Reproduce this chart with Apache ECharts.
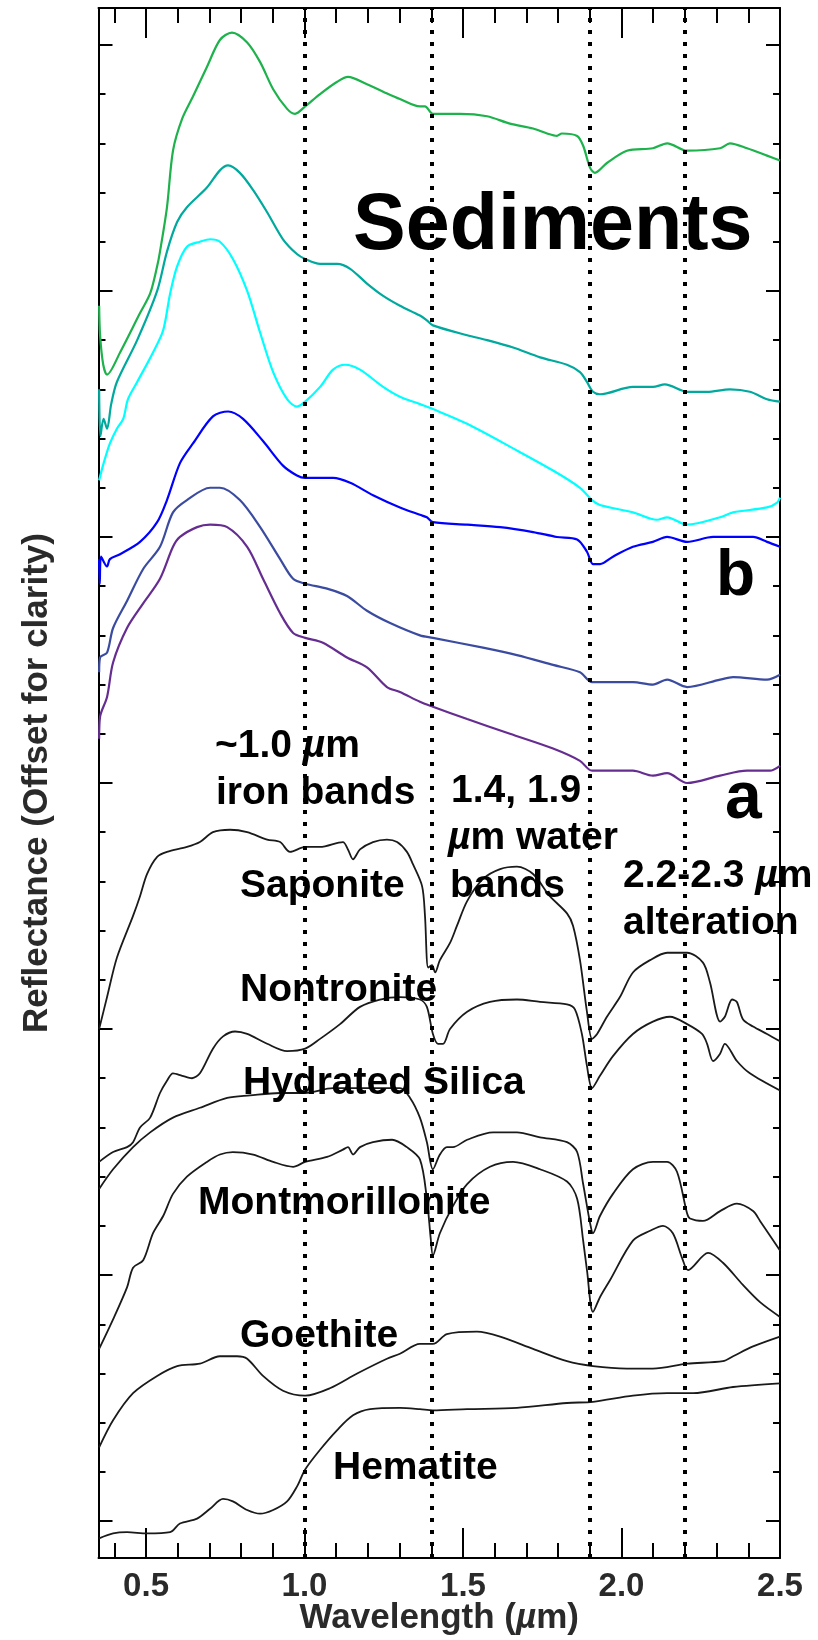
<!DOCTYPE html>
<html>
<head>
<meta charset="utf-8">
<script src="https://cdn.jsdelivr.net/npm/echarts@6/dist/echarts.min.js"></script>
<style>
html, body { margin: 0; padding: 0; background: #fff; }
#box { width: 818px; height: 1640px; }
</style>
</head>
<body>
<div id="box"></div>
<script>
// axis ticks and labels
var xMinorTicks = [0.4, 0.5, 0.6, 0.7, 0.8, 0.9, 1.0, 1.1, 1.2, 1.3, 1.4, 1.5, 1.6, 1.7, 1.8, 1.9, 2.0, 2.1, 2.2, 2.3, 2.4, 2.5];
var xMajorTicks = [0.5, 1.0, 1.5, 2.0, 2.5];
var yMinorTicks = [0, 0.2, 0.4, 0.6, 0.8, 1.0, 1.2, 1.4, 1.6, 1.8, 2.0, 2.2, 2.4, 2.6, 2.8, 3.0, 3.2, 3.4, 3.6, 3.8, 4.0, 4.2, 4.4, 4.6, 4.8, 5.0, 5.2, 5.4, 5.6, 5.8, 6.0];
var yMajorTicks = [0, 1, 2, 3, 4, 5, 6];
// absorption band positions (um)
var bandLines = [1.0, 1.4, 1.9, 2.2];

// sediment spectra, [wavelength, offset reflectance]
var sedGreen = [[0.352,4.94],[0.355,4.82],[0.365,4.70],[0.377,4.66],[0.418,4.75],[0.481,4.91],[0.513,4.99],[0.535,5.10],[0.544,5.16],[0.566,5.34],[0.585,5.57],[0.614,5.70],[0.648,5.79],[0.692,5.91],[0.733,6.02],[0.771,6.05],[0.819,6.01],[0.86,5.93],[0.901,5.82],[0.945,5.74],[0.97,5.72],[1.002,5.75],[1.049,5.80],[1.103,5.85],[1.137,5.87],[1.197,5.84],[1.248,5.81],[1.301,5.78],[1.364,5.75],[1.38,5.75],[1.405,5.72],[1.49,5.72],[1.576,5.71],[1.648,5.68],[1.721,5.66],[1.765,5.64],[1.796,5.63],[1.812,5.64],[1.86,5.63],[1.879,5.59],[1.901,5.50],[1.916,5.48],[1.954,5.52],[2.017,5.57],[2.099,5.58],[2.144,5.60],[2.207,5.57],[2.311,5.58],[2.342,5.60],[2.396,5.58],[2.459,5.55],[2.5,5.53]];
var sedTeal = [[0.352,4.60],[0.356,4.41],[0.366,4.48],[0.377,4.44],[0.39,4.54],[0.408,4.63],[0.472,4.80],[0.535,5.00],[0.566,5.16],[0.598,5.28],[0.629,5.34],[0.692,5.42],[0.733,5.49],[0.759,5.51],[0.796,5.48],[0.838,5.41],[0.882,5.32],[0.932,5.21],[0.976,5.15],[1.002,5.13],[1.049,5.11],[1.103,5.11],[1.144,5.09],[1.197,5.03],[1.248,4.98],[1.301,4.94],[1.364,4.90],[1.386,4.88],[1.405,4.86],[1.513,4.82],[1.576,4.80],[1.658,4.77],[1.743,4.73],[1.828,4.70],[1.869,4.67],[1.891,4.63],[1.91,4.59],[1.932,4.58],[2.036,4.61],[2.099,4.61],[2.137,4.62],[2.207,4.59],[2.27,4.59],[2.342,4.60],[2.405,4.59],[2.459,4.56],[2.5,4.55]];
var sedCyan = [[0.352,4.23],[0.364,4.29],[0.386,4.38],[0.408,4.44],[0.428,4.48],[0.443,4.56],[0.472,4.63],[0.522,4.75],[0.554,4.84],[0.576,4.99],[0.598,5.10],[0.629,5.18],[0.67,5.20],[0.702,5.21],[0.733,5.20],[0.774,5.13],[0.819,5.00],[0.86,4.83],[0.901,4.67],[0.945,4.56],[0.976,4.53],[1.002,4.55],[1.049,4.61],[1.09,4.68],[1.128,4.70],[1.175,4.68],[1.248,4.61],[1.301,4.57],[1.364,4.54],[1.405,4.52],[1.513,4.46],[1.658,4.36],[1.784,4.27],[1.869,4.20],[1.907,4.15],[1.932,4.13],[2.036,4.10],[2.112,4.07],[2.144,4.08],[2.207,4.05],[2.311,4.08],[2.352,4.10],[2.459,4.12],[2.491,4.14],[2.5,4.16]];
var sedBlue = [[0.352,3.91],[0.354,3.81],[0.358,3.92],[0.377,3.88],[0.386,3.91],[0.418,3.93],[0.481,3.98],[0.535,4.06],[0.566,4.15],[0.607,4.30],[0.648,4.38],[0.711,4.49],[0.759,4.51],[0.806,4.48],[0.869,4.39],[0.932,4.29],[0.976,4.25],[1.002,4.24],[1.09,4.24],[1.144,4.22],[1.216,4.17],[1.301,4.12],[1.364,4.09],[1.386,4.08],[1.405,4.06],[1.513,4.05],[1.617,4.04],[1.721,4.02],[1.796,4.00],[1.86,3.99],[1.891,3.94],[1.91,3.89],[1.932,3.89],[1.973,3.92],[2.036,3.96],[2.099,3.98],[2.144,4.00],[2.207,3.98],[2.289,4.00],[2.352,4.00],[2.415,4.00],[2.459,3.98],[2.5,3.96]];
var sedSlate = [[0.352,3.45],[0.355,3.51],[0.377,3.53],[0.396,3.63],[0.44,3.74],[0.491,3.87],[0.544,3.96],[0.585,4.10],[0.629,4.15],[0.702,4.20],[0.733,4.20],[0.796,4.15],[0.86,4.04],[0.923,3.91],[0.964,3.83],[1.002,3.81],[1.071,3.79],[1.134,3.76],[1.197,3.70],[1.27,3.65],[1.364,3.60],[1.405,3.59],[1.563,3.55],[1.67,3.52],[1.784,3.48],[1.869,3.45],[1.907,3.41],[2.036,3.41],[2.099,3.40],[2.144,3.42],[2.207,3.39],[2.311,3.42],[2.352,3.43],[2.459,3.42],[2.5,3.44]];
var sedPurple = [[0.352,3.18],[0.355,3.27],[0.377,3.35],[0.396,3.49],[0.44,3.63],[0.491,3.73],[0.544,3.83],[0.585,3.96],[0.607,4.00],[0.661,4.04],[0.702,4.05],[0.756,4.04],[0.819,3.96],[0.869,3.83],[0.923,3.69],[0.964,3.61],[1.002,3.59],[1.058,3.57],[1.134,3.51],[1.197,3.47],[1.26,3.39],[1.301,3.37],[1.364,3.33],[1.405,3.31],[1.513,3.26],[1.648,3.20],[1.784,3.14],[1.869,3.09],[1.907,3.05],[2.036,3.05],[2.099,3.03],[2.144,3.04],[2.207,3.00],[2.311,3.03],[2.396,3.05],[2.468,3.05],[2.5,3.07]];

// library minerals
var saponite = [[0.352,2.00],[0.377,2.13],[0.408,2.29],[0.459,2.46],[0.481,2.54],[0.503,2.63],[0.535,2.70],[0.566,2.72],[0.629,2.74],[0.67,2.76],[0.711,2.80],[0.765,2.81],[0.819,2.80],[0.882,2.77],[0.923,2.76],[0.954,2.72],[1.002,2.74],[1.049,2.74],[1.121,2.76],[1.137,2.73],[1.153,2.69],[1.175,2.73],[1.216,2.76],[1.26,2.77],[1.292,2.76],[1.323,2.72],[1.342,2.67],[1.371,2.58],[1.38,2.46],[1.39,2.25],[1.402,2.26],[1.412,2.23],[1.427,2.28],[1.459,2.35],[1.481,2.42],[1.513,2.52],[1.563,2.61],[1.617,2.65],[1.67,2.66],[1.721,2.63],[1.774,2.54],[1.828,2.47],[1.847,2.42],[1.869,2.28],[1.891,2.07],[1.907,1.96],[1.923,1.98],[1.954,2.05],[1.995,2.13],[2.036,2.23],[2.09,2.28],[2.144,2.31],[2.207,2.31],[2.257,2.27],[2.279,2.19],[2.311,2.03],[2.326,2.05],[2.349,2.12],[2.364,2.11],[2.383,2.04],[2.415,2.01],[2.459,1.98],[2.5,1.95]];
var nontronite = [[0.352,1.46],[0.396,1.50],[0.44,1.52],[0.459,1.54],[0.481,1.60],[0.513,1.64],[0.544,1.74],[0.566,1.79],[0.585,1.82],[0.614,1.81],[0.645,1.80],[0.67,1.82],[0.711,1.92],[0.743,1.97],[0.781,1.99],[0.819,1.98],[0.882,1.94],[0.945,1.91],[1.002,1.92],[1.049,1.96],[1.112,2.02],[1.175,2.09],[1.238,2.12],[1.301,2.13],[1.364,2.12],[1.386,2.09],[1.405,1.98],[1.421,1.94],[1.437,1.94],[1.459,2.00],[1.513,2.07],[1.585,2.11],[1.67,2.12],[1.743,2.11],[1.828,2.10],[1.853,2.08],[1.875,1.98],[1.891,1.85],[1.907,1.76],[1.932,1.81],[1.973,1.89],[2.036,1.98],[2.099,2.03],[2.153,2.05],[2.207,2.02],[2.254,1.98],[2.27,1.94],[2.289,1.87],[2.311,1.90],[2.326,1.94],[2.364,1.87],[2.405,1.82],[2.5,1.75]];
var hydratedSilica = [[0.352,1.35],[0.396,1.43],[0.459,1.52],[0.513,1.58],[0.585,1.64],[0.67,1.68],[0.756,1.72],[0.828,1.73],[0.923,1.74],[1.002,1.74],[1.09,1.76],[1.197,1.76],[1.301,1.76],[1.333,1.72],[1.364,1.64],[1.386,1.54],[1.405,1.43],[1.427,1.49],[1.449,1.52],[1.468,1.52],[1.513,1.55],[1.595,1.58],[1.67,1.58],[1.743,1.56],[1.828,1.54],[1.86,1.50],[1.879,1.37],[1.901,1.21],[1.91,1.17],[1.932,1.24],[1.973,1.33],[2.036,1.43],[2.099,1.46],[2.144,1.46],[2.175,1.42],[2.207,1.25],[2.216,1.23],[2.257,1.22],[2.311,1.26],[2.364,1.29],[2.415,1.26],[2.437,1.22],[2.5,1.10]];
var montmorillonite = [[0.352,0.70],[0.396,0.82],[0.44,0.95],[0.459,1.03],[0.491,1.06],[0.522,1.17],[0.554,1.24],[0.585,1.33],[0.629,1.40],[0.692,1.46],[0.733,1.49],[0.774,1.50],[0.838,1.49],[0.901,1.46],[0.964,1.44],[1.002,1.46],[1.071,1.48],[1.121,1.51],[1.137,1.52],[1.153,1.49],[1.175,1.52],[1.216,1.54],[1.276,1.55],[1.323,1.52],[1.364,1.47],[1.386,1.31],[1.398,1.15],[1.405,1.08],[1.427,1.17],[1.468,1.28],[1.513,1.37],[1.585,1.44],[1.658,1.46],[1.743,1.43],[1.828,1.38],[1.86,1.31],[1.879,1.14],[1.891,1.02],[1.91,0.85],[1.932,0.91],[1.964,0.98],[2.036,1.14],[2.09,1.18],[2.131,1.20],[2.162,1.17],[2.191,1.07],[2.21,1.02],[2.273,1.09],[2.32,1.05],[2.383,0.96],[2.437,0.89],[2.5,0.83]];
var goethite = [[0.352,0.30],[0.396,0.41],[0.459,0.52],[0.535,0.59],[0.598,0.63],[0.67,0.64],[0.733,0.67],[0.787,0.67],[0.819,0.66],[0.869,0.59],[0.932,0.53],[1.002,0.51],[1.08,0.54],[1.166,0.60],[1.26,0.66],[1.301,0.68],[1.364,0.72],[1.405,0.72],[1.449,0.76],[1.544,0.77],[1.617,0.75],[1.721,0.70],[1.828,0.65],[1.91,0.63],[2.017,0.62],[2.099,0.62],[2.207,0.64],[2.32,0.65],[2.352,0.67],[2.415,0.71],[2.5,0.75]];
var hematite = [[0.352,-0.07],[0.396,-0.05],[0.44,-0.045],[0.503,-0.05],[0.576,-0.045],[0.607,-0.01],[0.661,0.01],[0.702,0.05],[0.743,0.09],[0.774,0.08],[0.819,0.045],[0.86,0.03],[0.901,0.045],[0.945,0.08],[0.976,0.14],[1.002,0.21],[1.049,0.29],[1.103,0.37],[1.153,0.43],[1.207,0.455],[1.301,0.46],[1.364,0.455],[1.405,0.45],[1.513,0.455],[1.67,0.46],[1.828,0.48],[1.91,0.485],[2.036,0.51],[2.144,0.52],[2.226,0.52],[2.352,0.545],[2.5,0.56]];

var FONT = '"Liberation Sans", Arial, Helvetica, sans-serif';
var myChart = echarts.init(document.getElementById('box'));

var curves = [
    { name: 'sediment 1', data: sedGreen, color: '#1db24b', width: 2.2 },
    { name: 'sediment 2', data: sedTeal, color: '#00a99d', width: 2.2 },
    { name: 'sediment 3', data: sedCyan, color: '#00ffff', width: 2.2 },
    { name: 'sediment 4', data: sedBlue, color: '#0000ff', width: 2.2 },
    { name: 'sediment 5', data: sedSlate, color: '#3a4ba0', width: 2.2 },
    { name: 'sediment 6', data: sedPurple, color: '#662d91', width: 2.2 },
    { name: 'Saponite', data: saponite, color: '#1a1a1a', width: 1.8 },
    { name: 'Nontronite', data: nontronite, color: '#1a1a1a', width: 1.8 },
    { name: 'Hydrated Silica', data: hydratedSilica, color: '#1a1a1a', width: 1.8 },
    { name: 'Montmorillonite', data: montmorillonite, color: '#1a1a1a', width: 1.8 },
    { name: 'Goethite', data: goethite, color: '#1a1a1a', width: 1.8 },
    { name: 'Hematite', data: hematite, color: '#1a1a1a', width: 1.8 }
];

var series = curves.map(function(c, i) {
    var s = {
        name: c.name,
        type: 'line',
        data: c.data,
        showSymbol: false,
        symbol: 'none',
        smooth: 0.3,
        silent: true,
        lineStyle: { color: c.color, width: c.width }
    };
    if (i === 0) {
        //虚线：吸收带位置
        s.markLine = {
            silent: true,
            symbol: ['none', 'none'],
            label: { show: false },
            lineStyle: { color: '#000', width: 4, type: [4, 8], cap: 'butt' },
            emphasis: { disabled: true },
            data: bandLines.map(function(v) { return { xAxis: v }; })
        };
    }
    return s;
});

// text labels inside the plot (left x, baseline y, font size)
var notes = [
    { t: 'Sediments', x: 353, y: 255, s: 79 },
    { t: 'b', x: 716, y: 600, s: 64 },
    { t: 'a', x: 725, y: 823, s: 66 },
    { t: '~1.0 {i|µ}m', x: 215, y: 760, s: 39 },
    { t: 'iron bands', x: 216, y: 807, s: 39 },
    { t: '1.4, 1.9', x: 451, y: 805, s: 39 },
    { t: '{i|µ}m water', x: 448, y: 852, s: 39 },
    { t: 'bands', x: 450, y: 900, s: 39 },
    { t: '2.2-2.3 {i|µ}m', x: 623, y: 890, s: 39 },
    { t: 'alteration', x: 623, y: 937, s: 39 },
    { t: 'Saponite', x: 240, y: 900, s: 39 },
    { t: 'Nontronite', x: 240, y: 1004, s: 39 },
    { t: 'Hydrated Silica', x: 243, y: 1097, s: 39 },
    { t: 'Montmorillonite', x: 198, y: 1217, s: 39 },
    { t: 'Goethite', x: 240, y: 1350, s: 39 },
    { t: 'Hematite', x: 333, y: 1482, s: 39 }
];

var graphics = notes.map(function(n) {
    return {
        type: 'text',
        x: n.x,
        y: n.y - n.s * 0.35,
        z: 100,
        silent: true,
        style: {
            text: n.t,
            fill: '#000',
            fontFamily: FONT,
            fontWeight: 'bold',
            fontSize: n.s,
            align: 'left',
            verticalAlign: 'middle',
            rich: {
                i: { fontStyle: 'italic', fontWeight: 'bold', fontSize: n.s, fontFamily: FONT, fill: '#000' }
            }
        }
    };
});

function xAxisDef(pos, ticks, len, main) {
    return {
        type: 'value',
        position: pos,
        min: 0.35,
        max: 2.5,
        name: main ? 'Wavelength ({i|µ}m)' : '',
        nameLocation: 'middle',
        nameGap: 43,
        nameMoveOverlap: false,
        nameTextStyle: {
            fontFamily: FONT, fontWeight: 'bold', fontSize: 35, color: '#2a2a2a',
            rich: { i: { fontFamily: FONT, fontWeight: 'bold', fontStyle: 'italic', fontSize: 35, color: '#2a2a2a' } }
        },
        axisLine: { show: len > 20, onZero: false, lineStyle: { color: '#000', width: 2 } },
        axisTick: { show: true, inside: true, length: len, customValues: ticks, lineStyle: { color: '#000', width: 2 } },
        axisLabel: {
            show: !!main,
            customValues: xMajorTicks,
            margin: 12,
            fontFamily: FONT, fontWeight: 'bold', fontSize: 33, color: '#2a2a2a',
            formatter: function(v) { return v.toFixed(1); }
        },
        splitLine: { show: false }
    };
}

function yAxisDef(pos, ticks, len, main) {
    return {
        type: 'value',
        position: pos,
        min: -0.15,
        max: 6.15,
        name: main ? 'Reflectance (Offset for clarity)' : '',
        nameLocation: 'middle',
        nameGap: 44,
        nameMoveOverlap: false,
        nameTextStyle: { fontFamily: FONT, fontWeight: 'bold', fontSize: 35, color: '#2a2a2a' },
        axisLine: { show: len > 10, onZero: false, lineStyle: { color: '#000', width: 2 } },
        axisTick: { show: true, inside: true, length: len, customValues: ticks, lineStyle: { color: '#000', width: 2 } },
        axisLabel: { show: false },
        splitLine: { show: false }
    };
}

var option = {
    backgroundColor: '#fff',
    animation: false,
    grid: { left: 98.5, right: 38, top: 8, bottom: 82, containLabel: false, outerBoundsMode: 'none' },
    xAxis: [
        xAxisDef('bottom', xMajorTicks, 30, true),
        xAxisDef('bottom', xMinorTicks, 15, false),
        xAxisDef('top', xMajorTicks, 30, false),
        xAxisDef('top', xMinorTicks, 15, false)
    ],
    yAxis: [
        yAxisDef('left', yMajorTicks, 14, true),
        yAxisDef('left', yMinorTicks, 7, false),
        yAxisDef('right', yMajorTicks, 14, false),
        yAxisDef('right', yMinorTicks, 7, false)
    ],
    series: series,
    graphic: graphics
};
myChart.setOption(option);
</script>
</body>
</html>
